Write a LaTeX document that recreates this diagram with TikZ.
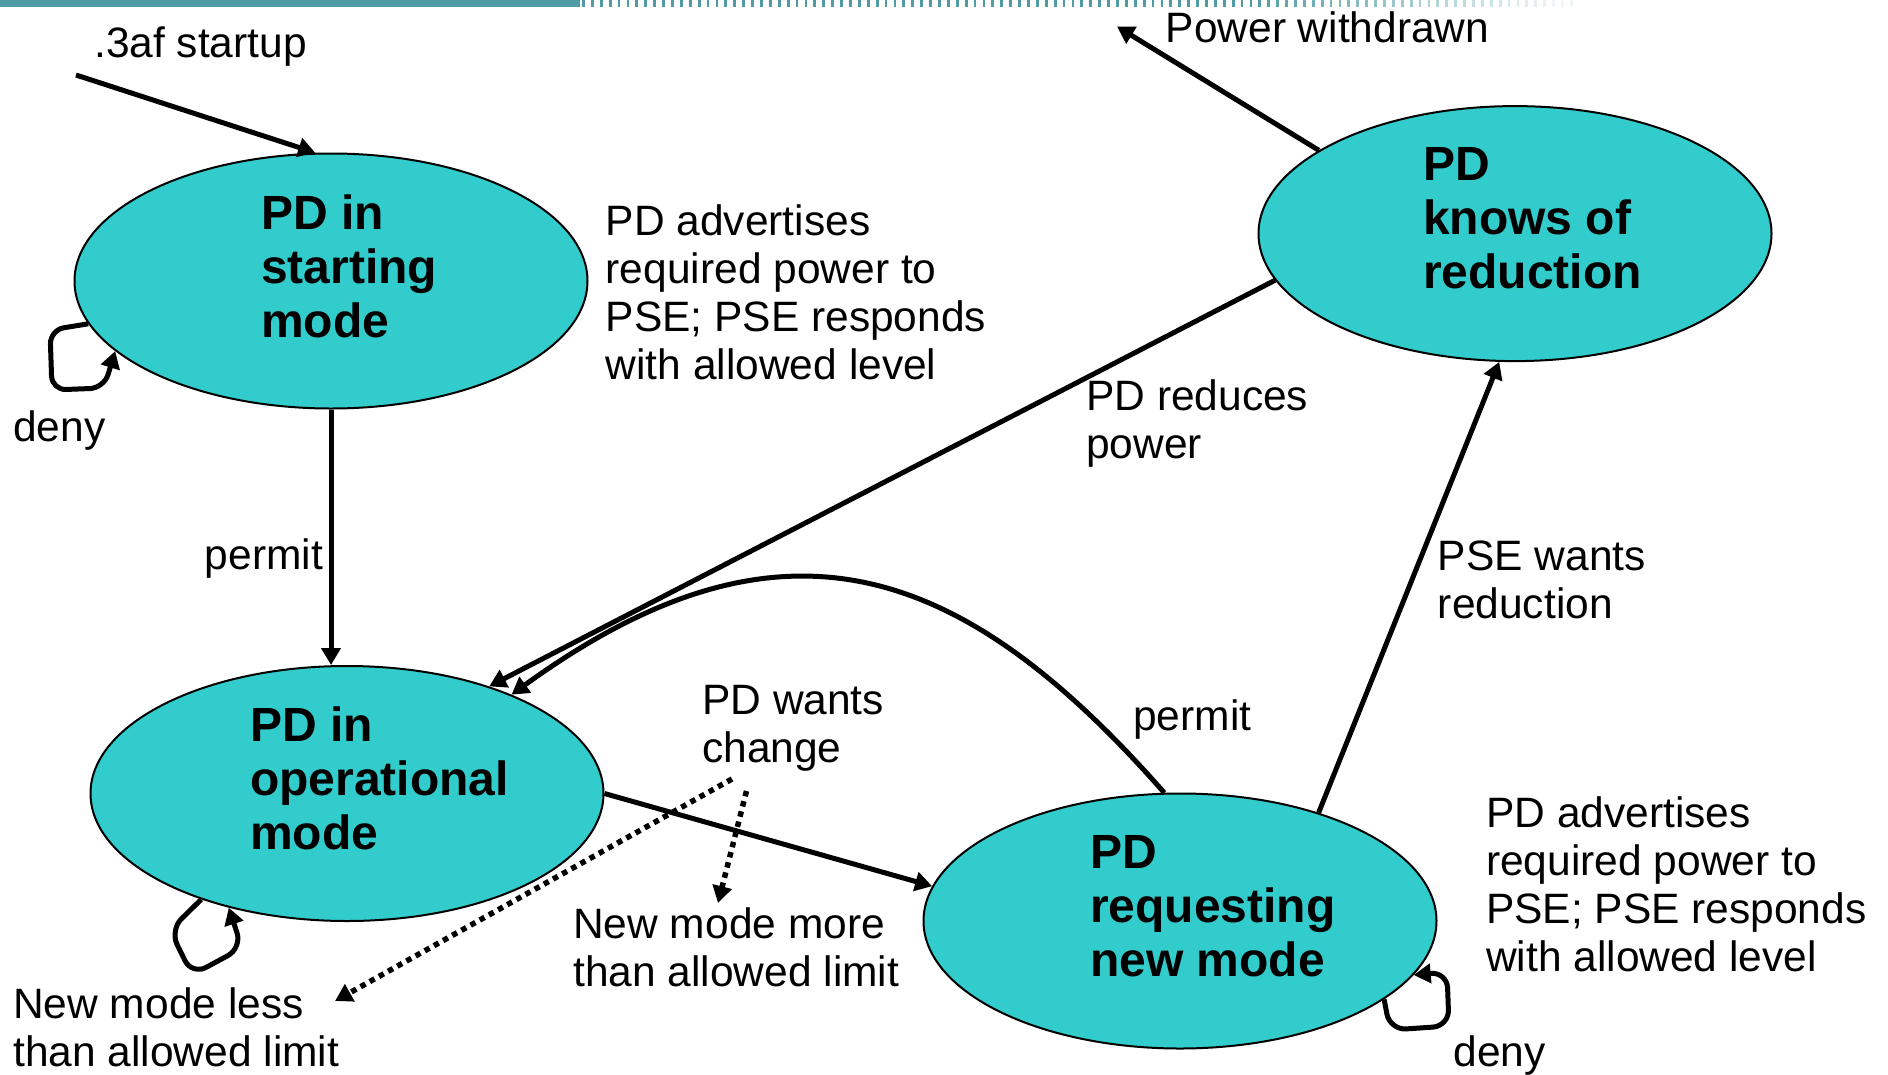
\documentclass[tikz,border=0pt]{standalone}
\usepackage{fontspec}
\setmainfont{Liberation Sans}
\usetikzlibrary{shapes.geometric,arrows.meta}
\definecolor{cyanfill}{RGB}{51,204,204}
\definecolor{barcol}{RGB}{80,156,164}
\begin{document}
\begin{tikzpicture}[x=1pt,y=-1pt,
  ell/.style={ellipse, draw=black, line width=2pt, fill=cyanfill, minimum width=513pt, minimum height=255pt, inner sep=0pt},
  lbl/.style={inner sep=0pt, anchor=west, align=left, font=\fontsize{42.5}{48}\selectfont},
  blbl/.style={inner sep=0pt, anchor=west, align=left, font=\fontsize{48}{54}\selectfont\bfseries},
  arr/.style={line width=5pt, -{Triangle[length=17pt,width=19pt]}},
  dotarr/.style={line width=5.5pt, dash pattern=on 5.5pt off 5pt, -{Triangle[length=17pt,width=19pt]}},
]
\useasboundingbox (0,0) rectangle (1888,1074);
% top bar
\fill[barcol] (0,0) rectangle (580,7);
\foreach \i in {0,...,111}{
  \pgfmathsetmacro\xx{582+8.9*\i}
  \pgfmathsetmacro\pct{(\xx<1250)?100:max(8,100-(\xx-1250)*0.3)}
  \fill[barcol!\pct!white] (\xx,0) rectangle ++(2.8,7);
}
% ellipses
\node[ell] (e1) at (331,281) {};
\node[ell] (e2) at (347,793.5) {};
\node[ell] (e3) at (1180,921) {};
\node[ell] (e4) at (1515,233.6) {};
% texts
\node[blbl] (t1) at (261,266) {PD in\\starting\\mode};
\node[blbl] (t2) at (250,778.6) {PD in\\operational\\mode};
\node[blbl] (t3) at (1090,906.3) {PD\\requesting\\new mode};
\node[blbl] (t4) at (1423,218.7) {PD\\knows of\\reduction};
\node[lbl] (l1) at (94,47) {.3af startup};
\node[lbl] (l2) at (1165.5,27) {Power withdrawn};
\node[lbl] (l3) at (605.6,292) {PD advertises\\required power to\\PSE; PSE responds\\with allowed level};
\node[lbl] (l4) at (13,431) {deny};
\node[lbl] (l5) at (204.7,559) {permit};
\node[lbl] (l6) at (1086,423.5) {PD reduces\\power};
\node[lbl] (l7) at (1437.7,579.7) {PSE wants\\reduction};
\node[lbl] (l8) at (1133,720) {permit};
\node[lbl] (l9) at (702,728) {PD wants\\change};
\node[lbl] (l10) at (573,947.6) {New mode more\\than allowed limit};
\node[lbl] (l11) at (13,1027.1) {New mode less\\than allowed limit};
\node[lbl] (l12) at (1486,884.7) {PD advertises\\required power to\\PSE; PSE responds\\with allowed level};
\node[lbl] (l13) at (1453.4,1055.5) {deny};
% free ends
\coordinate (st) at (76,75);
\coordinate (pw) at (1117,26.5);
\coordinate (d1s) at (732,779);
\coordinate (d1e) at (335,1001);
\coordinate (d2s) at (746.5,791);
\coordinate (d2e) at (718,903);
% connectors
\draw[arr] (st) -- (e1.97);
\draw[arr] (e4.157.6) -- (pw);
\draw[arr] (e1.south) -- (e1.south |- e2.north);
\draw[arr] (e4.191.6) -- (e2.37.7);
\draw[arr] (e3.97.1) .. controls (960,560) and (780,500) .. (e2.31.9);
\draw[arr] (e2.east) -- (e3.172.4);
\draw[arr] (e3.38) -- (e4.263.4);
\draw[dotarr] (d1s) -- (d1e);
\draw[dotarr] (d2s) -- (d2e);
% self loops
\draw[arr, rounded corners=14pt] (e1.190.8) -- (50,330) -- (52,390) -- (104,388) -- (e1.198.8);
\draw[arr, rounded corners=16pt] (e2.216.1) -- (170,930) -- (192,975) -- (242,948) -- (e2.224.9);
\draw[arr, rounded corners=16pt] (e3.339.7) -- (1390,1030) -- (1449,1026) -- (1447,972) -- (e3.347);
\end{tikzpicture}
\end{document}
